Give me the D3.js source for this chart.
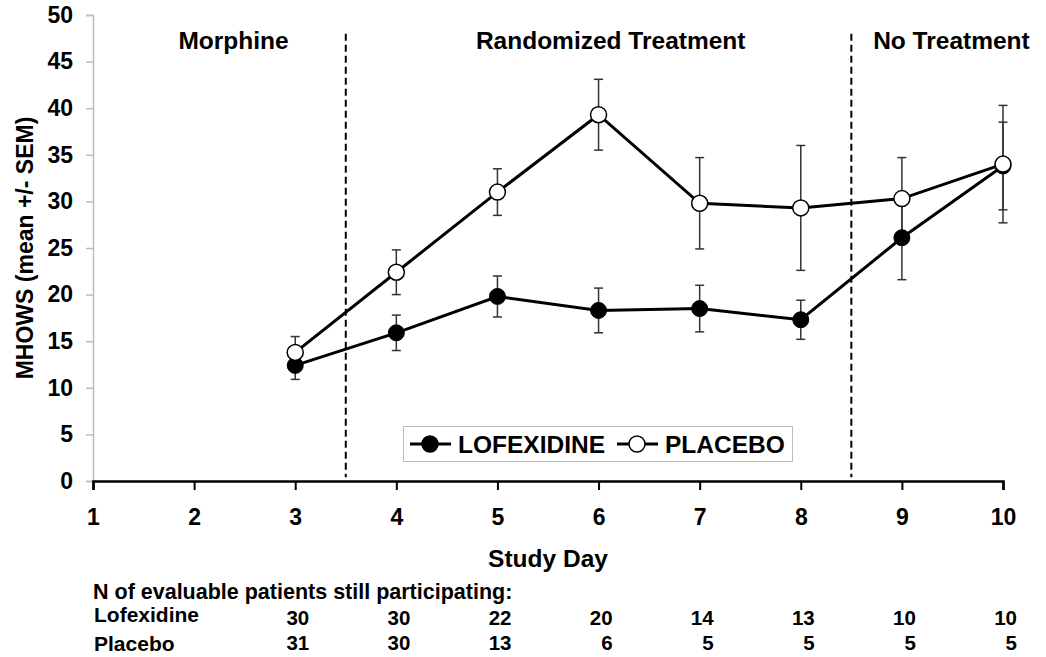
<!DOCTYPE html>
<html>
<head>
<meta charset="utf-8">
<script src="https://cdnjs.cloudflare.com/ajax/libs/d3/7.8.5/d3.min.js"></script>
<style>
	body { margin: 0; background: #fff; }
	svg text { font-family: "Liberation Sans", Arial, sans-serif; font-weight: bold; fill: #000; }
</style>
</head>
<body>
<svg width="1046" height="657"></svg>
<script>

// values
var days = [3, 4, 5, 6, 7, 8, 9, 10];
var lofexidineMean = [12.4, 15.9, 19.8, 18.3, 18.5, 17.3, 26.1, 33.8];
var lofexidineSem = [1.5, 1.9, 2.2, 2.4, 2.5, 2.1, 4.5, 4.7];
var placeboMean = [13.8, 22.4, 31.0, 39.3, 29.8, 29.3, 30.3, 34.0];
var placeboSem = [1.7, 2.4, 2.5, 3.8, 4.9, 6.7, 4.4, 6.3];

var xTicks = [1, 2, 3, 4, 5, 6, 7, 8, 9, 10];
var yTicks = [0, 5, 10, 15, 20, 25, 30, 35, 40, 45, 50];

var phaseLabels = ["Morphine", "Randomized Treatment", "No Treatment"];
var phaseCenters = [2.39, 6.12, 9.49];
var phaseBreaks = [3.5, 8.5];

var nLofexidine = [30, 30, 22, 20, 14, 13, 10, 10];
var nPlacebo = [31, 30, 13, 6, 5, 5, 5, 5];

const LINE_W = 3;
const DOT_R = 8;
const CAP = 4.5;

var svg = d3.select("svg"),
	margin = {left: 93, top: 15, right: 43, bottom: 176},
	width = +svg.attr("width") - margin.left - margin.right,
	height = +svg.attr("height") - margin.top - margin.bottom;

var x = d3.scaleLinear().domain([1, 10]).range([margin.left, margin.left + width]);
var y = d3.scaleLinear().domain([0, 50]).range([margin.top + height, margin.top]);

function series(means, sems) {
	return days.map(function (d, i) {
		return {day: d, mean: means[i], sem: sems[i]};
	});
}

var lof = series(lofexidineMean, lofexidineSem);
var pla = series(placeboMean, placeboSem);

// y axis: light grey
var yAxis = svg.append("g")
	.attr("transform", "translate(" + margin.left + ",0)")
	.call(d3.axisLeft(y).tickValues(yTicks).tickSize(7).tickPadding(13));
yAxis.select(".domain").attr("stroke", "#bdbdbd").attr("stroke-width", 1.5);
yAxis.selectAll(".tick line").attr("stroke", "#bdbdbd").attr("stroke-width", 1.5);
yAxis.selectAll(".tick text")
	.attr("font-size", 23)
	.attr("font-family", "Liberation Sans, Arial, sans-serif")
	.attr("font-weight", "bold")
	.attr("fill", "#000");

// x axis: heavy black
var xAxis = svg.append("g")
	.attr("transform", "translate(0," + y(0) + ")")
	.call(d3.axisBottom(x).tickValues(xTicks).tickSize(9).tickSizeOuter(9).tickPadding(19));
xAxis.select(".domain").attr("stroke", "#000").attr("stroke-width", 2.5);
xAxis.selectAll(".tick line").attr("stroke", "#000").attr("stroke-width", 2);
xAxis.selectAll(".tick text")
	.attr("font-size", 23)
	.attr("font-family", "Liberation Sans, Arial, sans-serif")
	.attr("font-weight", "bold")
	.attr("fill", "#000");

// phase separators
svg.selectAll(".phase-break")
	.data(phaseBreaks)
	.enter().append("line")
	.attr("class", "phase-break")
	.attr("x1", function (d) { return x(d); })
	.attr("x2", function (d) { return x(d); })
	.attr("y1", y(48))
	.attr("y2", y(0.4))
	.attr("stroke", "#000")
	.attr("stroke-width", 2)
	.attr("stroke-dasharray", "7,4");

svg.selectAll(".phase-label")
	.data(phaseLabels)
	.enter().append("text")
	.attr("class", "phase-label")
	.attr("x", function (d, i) { return x(phaseCenters[i]); })
	.attr("y", 49)
	.attr("text-anchor", "middle")
	.attr("font-size", 24.5)
	.text(function (d) { return d; });

// error bars
function errorBars(data, cls) {
	var g = svg.append("g").attr("class", cls)
		.attr("stroke", "#333")
		.attr("stroke-width", 1.5);
	var bar = g.selectAll("g").data(data).enter().append("g");
	bar.append("line")
		.attr("x1", function (d) { return x(d.day); })
		.attr("x2", function (d) { return x(d.day); })
		.attr("y1", function (d) { return y(d.mean + d.sem); })
		.attr("y2", function (d) { return y(d.mean - d.sem); });
	bar.append("line")
		.attr("x1", function (d) { return x(d.day) - CAP; })
		.attr("x2", function (d) { return x(d.day) + CAP; })
		.attr("y1", function (d) { return y(d.mean + d.sem); })
		.attr("y2", function (d) { return y(d.mean + d.sem); });
	bar.append("line")
		.attr("x1", function (d) { return x(d.day) - CAP; })
		.attr("x2", function (d) { return x(d.day) + CAP; })
		.attr("y1", function (d) { return y(d.mean - d.sem); })
		.attr("y2", function (d) { return y(d.mean - d.sem); });
}

errorBars(lof, "err-lof");
errorBars(pla, "err-pla");

var line = d3.line()
	.x(function (d) { return x(d.day); })
	.y(function (d) { return y(d.mean); });

svg.append("path").datum(lof)
	.attr("d", line)
	.attr("fill", "none")
	.attr("stroke", "#000")
	.attr("stroke-width", LINE_W);

svg.append("path").datum(pla)
	.attr("d", line)
	.attr("fill", "none")
	.attr("stroke", "#000")
	.attr("stroke-width", LINE_W);

svg.append("g").selectAll("circle")
	.data(lof)
	.enter().append("circle")
	.attr("cx", function (d) { return x(d.day); })
	.attr("cy", function (d) { return y(d.mean); })
	.attr("r", DOT_R)
	.attr("fill", "#000")
	.attr("stroke", "#000")
	.attr("stroke-width", 1);

svg.append("g").selectAll("circle")
	.data(pla)
	.enter().append("circle")
	.attr("cx", function (d) { return x(d.day); })
	.attr("cy", function (d) { return y(d.mean); })
	.attr("r", DOT_R)
	.attr("fill", "#fff")
	.attr("stroke", "#000")
	.attr("stroke-width", 1.5);

// legend
var legend = svg.append("g").attr("class", "legend");
legend.append("rect")
	.attr("x", 403.5)
	.attr("y", 426.5)
	.attr("width", 389)
	.attr("height", 35)
	.attr("fill", "#fff")
	.attr("stroke", "#bbb")
	.attr("stroke-width", 1);

var legendItems = [
	{name: "LOFEXIDINE", fill: "#000", x0: 410},
	{name: "PLACEBO", fill: "#fff", x0: 617}
];

legendItems.forEach(function (it) {
	legend.append("line")
		.attr("x1", it.x0).attr("x2", it.x0 + 41)
		.attr("y1", 444).attr("y2", 444)
		.attr("stroke", "#000").attr("stroke-width", LINE_W);
	legend.append("circle")
		.attr("cx", it.x0 + 20).attr("cy", 444).attr("r", DOT_R)
		.attr("fill", it.fill).attr("stroke", "#000").attr("stroke-width", 1.5);
	legend.append("text")
		.attr("x", it.x0 + 48)
		.attr("y", 453)
		.attr("font-size", 24.5)
		.text(it.name);
});

// axis titles
svg.append("text")
	.attr("transform", "translate(33," + ((y(0) + y(50)) / 2) + ") rotate(-90)")
	.attr("text-anchor", "middle")
	.attr("font-size", 23)
	.text("MHOWS (mean +/- SEM)");

svg.append("text")
	.attr("x", 548)
	.attr("y", 567)
	.attr("text-anchor", "middle")
	.attr("font-size", 24.5)
	.text("Study Day");

// N table under the chart
svg.append("text")
	.attr("x", 93)
	.attr("y", 599)
	.attr("font-size", 21.5)
	.text("N of evaluable patients still participating:");

svg.append("text").attr("x", 94).attr("y", 622).attr("font-size", 21).text("Lofexidine");
svg.append("text").attr("x", 94).attr("y", 651).attr("font-size", 21).text("Placebo");

svg.append("g").selectAll("text")
	.data(nLofexidine)
	.enter().append("text")
	.attr("x", function (d, i) { return x(days[i]) + 14; })
	.attr("y", 625)
	.attr("text-anchor", "end")
	.attr("font-size", 20.5)
	.text(function (d) { return d; });

svg.append("g").selectAll("text")
	.data(nPlacebo)
	.enter().append("text")
	.attr("x", function (d, i) { return x(days[i]) + 14; })
	.attr("y", 650)
	.attr("text-anchor", "end")
	.attr("font-size", 20.5)
	.text(function (d) { return d; });

</script>
</body>
</html>
